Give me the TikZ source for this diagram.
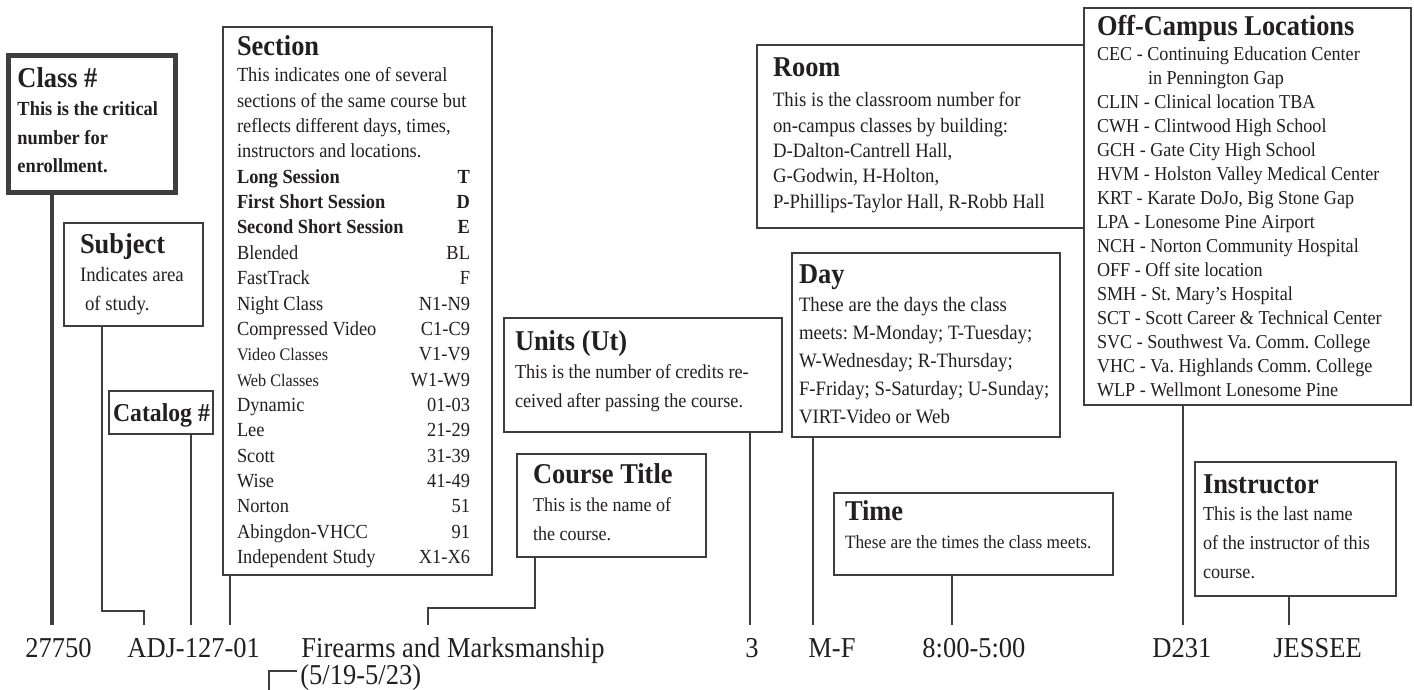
\documentclass[tikz,border=0pt]{standalone}
\usepackage{fontspec}
\setmainfont{Liberation Serif}[FakeStretch=0.92]
\usepackage{tikz}
\definecolor{ink}{RGB}{35,31,32}
\definecolor{rule}{RGB}{62,62,62}
\newcommand{\boxtitle}[2]{\makebox[#1][l]{\bfseries\fontsize{14.35}{15}\selectfont #2}}
\newcommand{\secrow}[2]{\leavevmode\hbox to 116.5pt{#1\hfil #2}}

\begin{document}
\begin{tikzpicture}[x=0.5pt, y=-0.5pt]
    \tikzstyle{infobox} = [draw=rule, line width=0.75pt, rectangle, anchor=north west, inner ysep=0pt, outer sep=0pt, align=left, text=ink, execute at begin node=\frenchspacing]
    \tikzstyle{classbox} = [infobox, line width=2.5pt]
    \tikzstyle{valtext} = [anchor=base west, inner sep=0pt, text height=16pt, text=ink, font=\fontsize{14.4}{16}\selectfont]
    \tikzstyle{stemline} = [draw=rule, line width=0.75pt]
    \tikzstyle{thickstem} = [stemline, line width=2pt]
    \useasboundingbox (0,0) rectangle (1414,690);

    \node (cls) [classbox, inner xsep=4.5pt, text height=58.25pt, text depth=10pt, font=\bfseries\fontsize{10}{14.25}\selectfont] at (8.5,56)
      {\boxtitle{74.5pt}{Class \#}\\ This is the critical\\ number for\\ enrollment.};
    \node (subj) [infobox, inner xsep=8pt, text height=43.5pt, text depth=8pt, font=\fontsize{10.2}{14.25}\selectfont] at (64,223)
      {\boxtitle{53.5pt}{Subject}\\ Indicates area\\ \hspace*{2.5pt}of study.};
    \node (catalog) [infobox, inner xsep=2pt, text height=15pt, text depth=6.5pt] at (109,391)
      {\makebox[48pt][l]{\bfseries\fontsize{12.9}{14}\selectfont Catalog \#}};
    \node (section) [infobox, inner xsep=7pt, text height=268.2pt, text depth=5.8pt, font=\fontsize{10}{12.67}\selectfont] at (223,27)
      {\boxtitle{120.5pt}{Section}\\[0.8pt]
       This indicates one of several\\
       sections of the same course but\\
       reflects different days, times,\\
       instructors and locations.\\
       \secrow{\bfseries Long Session}{\bfseries T}\\
       \secrow{\bfseries First Short Session}{\bfseries D}\\
       \secrow{\bfseries Second Short Session}{\bfseries E}\\
       \secrow{Blended}{BL}\\
       \secrow{FastTrack}{F}\\
       \secrow{Night Class}{N1-N9}\\
       \secrow{Compressed Video}{C1-C9}\\
       \secrow{{\fontsize{8.8}{10}\selectfont Video Classes}}{V1-V9}\\
       \secrow{{\fontsize{8.8}{10}\selectfont Web Classes}}{W1-W9}\\
       \secrow{Dynamic}{01-03}\\
       \secrow{Lee}{21-29}\\
       \secrow{Scott}{31-39}\\
       \secrow{Wise}{41-49}\\
       \secrow{Norton}{51}\\
       \secrow{Abingdon-VHCC}{91}\\
       \secrow{Independent Study}{X1-X6}};
    \node (units) [infobox, inner xsep=5.5pt, text height=44.5pt, text depth=12.5pt, font=\fontsize{9.9}{14.5}\selectfont] at (504,318)
      {\boxtitle{128pt}{Units (Ut)}\\[-0.5pt] This is the number of credits re-\\ ceived after passing the course.};
    \node (title) [infobox, inner xsep=8pt, text height=43pt, text depth=8.5pt, font=\fontsize{9.8}{14.25}\selectfont] at (517,454)
      {\boxtitle{78.5pt}{Course Title}\\ This is the name of\\ the course.};
    \node (day) [infobox, inner xsep=3.5pt, text height=85pt, text depth=7pt, font=\fontsize{10.2}{14}\selectfont] at (792,253)
      {\boxtitle{127pt}{Day}\\ These are the days the class\\ meets: M-Monday; T-Tuesday;\\ W-Wednesday; R-Thursday;\\ F-Friday; S-Saturday; U-Sunday;\\ VIRT-Video or Web};
    \node (time) [infobox, inner xsep=5.5pt, text height=27.5pt, text depth=13.5pt, font=\fontsize{9.4}{14}\selectfont] at (834,493)
      {\boxtitle{128.5pt}{Time}\\ These are the times the class meets.};
    \node (room) [infobox, inner xsep=8pt, text height=81.6pt, text depth=9.9pt, font=\fontsize{10.2}{12.65}\selectfont] at (757,45)
      {\boxtitle{147.5pt}{Room}\\[2.35pt] This is the classroom number for\\ on-campus classes by building:\\ D-Dalton-Cantrell Hall,\\ G-Godwin, H-Holton,\\ P-Phillips-Taylor Hall, R-Robb Hall};
    \node (off) [infobox, inner xsep=6.5pt, text height=194pt, text depth=4.5pt, font=\fontsize{9.85}{12}\selectfont] at (1084,8)
      {\boxtitle{150.5pt}{Off-Campus Locations}\\[0.5pt]
       CEC - Continuing Education Center\\
       \hspace*{25.5pt}in Pennington Gap\\
       CLIN - Clinical location TBA\\
       CWH - Clintwood High School\\
       GCH - Gate City High School\\
       HVM - Holston Valley Medical Center\\
       KRT - Karate DoJo, Big Stone Gap\\
       LPA - Lonesome Pine Airport\\
       NCH - Norton Community Hospital\\
       OFF - Off site location\\
       SMH - St. Mary’s Hospital\\
       SCT - Scott Career \& Technical Center\\
       SVC - Southwest Va. Comm. College\\
       VHC - Va. Highlands Comm. College\\
       WLP - Wellmont Lonesome Pine};
    \node (instr) [infobox, inner xsep=4pt, text height=58pt, text depth=9pt, font=\fontsize{9.9}{14.5}\selectfont] at (1195,462)
      {\boxtitle{92.5pt}{Instructor}\\[-1pt] This is the last name\\ of the instructor of this\\ course.};

    \node (clsval) [valtext] at (25,657) {27750};
    \node (crsval) [valtext] at (127,657) {ADJ-127-01};
    \node (titleval) [valtext] at (301,657) {Firearms and Marksmanship};
    \node (dateval) [valtext] at (300,684) {(5/19-5/23)};
    \node (utval) [valtext] at (745,657) {3};
    \node (dayval) [valtext] at (808,657) {M-F};
    \node (timeval) [valtext] at (922,657) {8:00-5:00};
    \node (roomval) [valtext] at (1152,657) {D231};
    \node (instrval) [valtext] at (1273,657) {JESSEE};

    \draw [thickstem] (cls.south -| 52,0) -- (clsval.north -| 52,0);
    \draw [stemline] (subj.south -| 102,0) -- ++(0,285) -| (crsval.north -| 144,0);
    \draw [stemline] (catalog.south -| 191,0) -- (crsval.north -| 191,0);
    \draw [stemline] (section.south -| 230,0) -- (crsval.north -| 230,0);
    \draw [stemline] (title.south -| 535,0) -- ++(0,51) -| (titleval.north -| 428,0);
    \draw [stemline] (units.south -| 750,0) -- (utval.north -| 750,0);
    \draw [stemline] (day.south -| 813,0) -- (dayval.north -| 813,0);
    \draw [stemline] (time.south -| 952,0) -- (timeval.north -| 952,0);
    \draw [stemline] (off.south -| 1183,0) -- (roomval.north -| 1183,0);
    \draw [stemline] (instr.south -| 1289,0) -- (instrval.north -| 1289,0);
    \draw [stemline] ([xshift=-1.5pt]dateval.west) -| ++(-28,19);
\end{tikzpicture}
\end{document}
